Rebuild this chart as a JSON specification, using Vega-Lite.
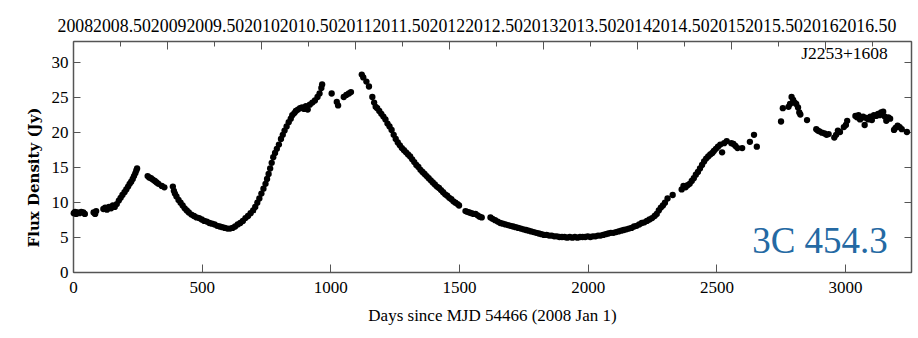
{
  "$schema": "https://vega.github.io/schema/vega-lite/v6.json",
  "width": 838,
  "height": 231,
  "autosize": {"type": "none"},
  "padding": {"left": 73, "top": 41, "right": 7, "bottom": 66},
  "background": "white",
  "config": {
    "font": "Liberation Serif",
    "view": {"stroke": "#555", "strokeWidth": 1},
    "axis": {"grid": false, "domainColor": "#555", "domainWidth": 1.5, "tickColor": "#555", "tickWidth": 1, "labelColor": "black", "labelFont": "Liberation Serif", "labelFontSize": 17, "titleFont": "Liberation Serif", "titleColor": "black"}
  },
  "datasets": {
    "lc": [
      {"d":3,"f":8.4},{"d":8,"f":8.6},{"d":12,"f":8.3},{"d":18,"f":8.5},{"d":25,"f":8.4},{"d":32,"f":8.6},{"d":40,"f":8.5},{"d":46,"f":8.3},
      {"d":80,"f":8.5},{"d":86,"f":8.3},{"d":90,"f":8.7},
      {"d":118,"f":9.0},{"d":125,"f":9.2},{"d":132,"f":8.9},{"d":140,"f":9.3},{"d":148,"f":9.1},{"d":155,"f":9.5},{"d":162,"f":9.3},{"d":170,"f":9.7},{"d":178,"f":10.2},{"d":185,"f":10.6},{"d":192,"f":11.0},{"d":200,"f":11.4},{"d":207,"f":11.8},{"d":214,"f":12.2},{"d":220,"f":12.6},{"d":226,"f":12.9},{"d":232,"f":13.3},{"d":237,"f":13.7},{"d":242,"f":14.1},{"d":246,"f":14.5},{"d":249,"f":14.8},
      {"d":290,"f":13.7},{"d":296,"f":13.5},{"d":303,"f":13.4},{"d":310,"f":13.2},{"d":318,"f":13.0},{"d":325,"f":12.8},{"d":332,"f":12.6},{"d":345,"f":12.3},{"d":355,"f":12.1},
      {"d":388,"f":12.2},{"d":392,"f":11.6},{"d":396,"f":11.2},{"d":402,"f":10.8},{"d":410,"f":10.3},{"d":418,"f":9.9},{"d":426,"f":9.5},{"d":434,"f":9.1},{"d":442,"f":8.8},{"d":450,"f":8.5},{"d":460,"f":8.2},{"d":470,"f":8.0},{"d":480,"f":7.8},{"d":490,"f":7.7},{"d":500,"f":7.5},{"d":510,"f":7.3},{"d":520,"f":7.2},{"d":530,"f":7.0},{"d":540,"f":6.9},{"d":550,"f":6.8},{"d":560,"f":6.6},{"d":570,"f":6.5},{"d":580,"f":6.4},{"d":590,"f":6.3},{"d":600,"f":6.2},{"d":610,"f":6.2},{"d":620,"f":6.3},{"d":630,"f":6.5},{"d":640,"f":6.8},{"d":650,"f":7.0},{"d":660,"f":7.3},{"d":670,"f":7.7},{"d":680,"f":8.0},{"d":690,"f":8.4},{"d":700,"f":8.8},{"d":708,"f":9.3},{"d":716,"f":9.9},{"d":724,"f":10.5},{"d":732,"f":11.2},{"d":740,"f":11.9},{"d":748,"f":12.6},{"d":754,"f":13.3},{"d":760,"f":14.0},{"d":766,"f":14.8},{"d":772,"f":15.6},{"d":778,"f":16.4},{"d":785,"f":17.0},{"d":792,"f":17.6},{"d":800,"f":18.2},{"d":808,"f":19.0},{"d":815,"f":19.6},{"d":822,"f":20.2},{"d":830,"f":20.8},{"d":838,"f":21.4},{"d":846,"f":21.9},{"d":852,"f":22.4},{"d":860,"f":22.7},{"d":866,"f":23.0},{"d":874,"f":23.2},{"d":882,"f":23.4},{"d":890,"f":23.5},{"d":898,"f":23.3},{"d":905,"f":23.7},{"d":912,"f":23.2},{"d":920,"f":23.9},{"d":930,"f":24.2},{"d":940,"f":24.5},{"d":950,"f":25.0},{"d":958,"f":25.5},{"d":965,"f":26.3},{"d":968,"f":26.8},
      {"d":1005,"f":25.5},{"d":1025,"f":24.3},{"d":1030,"f":23.8},{"d":1052,"f":25.0},{"d":1062,"f":25.3},{"d":1072,"f":25.5},{"d":1080,"f":25.7},
      {"d":1122,"f":28.2},{"d":1128,"f":27.8},{"d":1140,"f":27.2},{"d":1150,"f":26.5},{"d":1163,"f":25.0},{"d":1170,"f":24.2},{"d":1176,"f":23.6},{"d":1182,"f":23.4},{"d":1190,"f":23.0},{"d":1198,"f":22.6},{"d":1206,"f":22.2},{"d":1214,"f":21.8},{"d":1222,"f":21.2},{"d":1230,"f":20.8},{"d":1238,"f":20.3},{"d":1246,"f":19.6},{"d":1254,"f":19.0},{"d":1262,"f":18.5},{"d":1270,"f":18.1},{"d":1278,"f":17.7},{"d":1286,"f":17.4},{"d":1294,"f":17.1},{"d":1302,"f":16.8},{"d":1310,"f":16.5},{"d":1318,"f":16.1},{"d":1326,"f":15.7},{"d":1334,"f":15.3},{"d":1342,"f":15.0},{"d":1350,"f":14.6},{"d":1358,"f":14.3},{"d":1366,"f":14.0},{"d":1374,"f":13.7},{"d":1382,"f":13.4},{"d":1390,"f":13.1},{"d":1398,"f":12.8},{"d":1406,"f":12.5},{"d":1414,"f":12.2},{"d":1422,"f":12.0},{"d":1430,"f":11.7},{"d":1438,"f":11.4},{"d":1446,"f":11.1},{"d":1454,"f":10.9},{"d":1462,"f":10.6},{"d":1470,"f":10.4},{"d":1478,"f":10.1},{"d":1486,"f":9.9},{"d":1494,"f":9.7},{"d":1500,"f":9.5},
      {"d":1525,"f":8.7},{"d":1532,"f":8.6},{"d":1540,"f":8.5},{"d":1548,"f":8.4},{"d":1556,"f":8.3},{"d":1564,"f":8.3},{"d":1572,"f":8.1},{"d":1580,"f":7.9},{"d":1588,"f":7.8},
      {"d":1622,"f":7.8},{"d":1630,"f":7.6},{"d":1640,"f":7.4},{"d":1650,"f":7.2},{"d":1660,"f":7.0},{"d":1670,"f":6.9},{"d":1680,"f":6.8},{"d":1690,"f":6.7},{"d":1700,"f":6.6},{"d":1710,"f":6.5},{"d":1720,"f":6.4},{"d":1730,"f":6.3},{"d":1740,"f":6.2},{"d":1750,"f":6.1},{"d":1760,"f":6.0},{"d":1770,"f":5.9},{"d":1780,"f":5.8},{"d":1790,"f":5.7},{"d":1800,"f":5.6},{"d":1810,"f":5.5},{"d":1820,"f":5.4},{"d":1830,"f":5.3},{"d":1840,"f":5.3},{"d":1850,"f":5.2},{"d":1860,"f":5.2},{"d":1870,"f":5.1},{"d":1880,"f":5.1},{"d":1890,"f":5.0},{"d":1900,"f":5.0},{"d":1910,"f":5.0},{"d":1920,"f":4.9},{"d":1930,"f":5.0},{"d":1940,"f":4.9},{"d":1950,"f":5.0},{"d":1960,"f":4.9},{"d":1970,"f":5.0},{"d":1980,"f":5.0},{"d":1990,"f":5.0},{"d":2000,"f":5.1},{"d":2010,"f":5.0},{"d":2020,"f":5.1},{"d":2030,"f":5.1},{"d":2040,"f":5.2},{"d":2050,"f":5.2},{"d":2060,"f":5.3},{"d":2070,"f":5.4},{"d":2080,"f":5.5},{"d":2090,"f":5.6},{"d":2100,"f":5.6},{"d":2110,"f":5.7},{"d":2120,"f":5.8},{"d":2130,"f":5.9},{"d":2140,"f":6.0},{"d":2150,"f":6.1},{"d":2160,"f":6.2},{"d":2170,"f":6.3},{"d":2180,"f":6.5},{"d":2190,"f":6.6},{"d":2200,"f":6.8},{"d":2210,"f":7.0},{"d":2220,"f":7.1},{"d":2230,"f":7.3},{"d":2240,"f":7.5},{"d":2250,"f":7.7},{"d":2260,"f":8.0},{"d":2268,"f":8.3},{"d":2276,"f":8.8},{"d":2284,"f":9.2},{"d":2292,"f":9.5},{"d":2300,"f":9.9},{"d":2310,"f":10.5},{"d":2330,"f":11.0},
      {"d":2365,"f":11.8},{"d":2372,"f":12.3},{"d":2380,"f":12.1},{"d":2388,"f":12.4},{"d":2396,"f":12.6},{"d":2404,"f":13.0},{"d":2412,"f":13.4},{"d":2420,"f":13.9},{"d":2428,"f":14.3},{"d":2436,"f":14.8},{"d":2444,"f":15.3},{"d":2452,"f":15.8},{"d":2460,"f":16.2},{"d":2468,"f":16.5},{"d":2476,"f":16.8},{"d":2484,"f":17.0},{"d":2490,"f":17.3},{"d":2498,"f":17.6},{"d":2506,"f":17.9},{"d":2515,"f":18.2},{"d":2522,"f":17.1},{"d":2530,"f":18.4},{"d":2540,"f":18.7},{"d":2558,"f":18.4},{"d":2566,"f":18.3},{"d":2574,"f":18.0},{"d":2582,"f":17.7},{"d":2600,"f":17.7},{"d":2630,"f":18.6},{"d":2646,"f":19.6},{"d":2657,"f":17.9},
      {"d":2751,"f":21.5},{"d":2758,"f":23.4},{"d":2780,"f":23.6},{"d":2786,"f":24.0},{"d":2792,"f":25.0},{"d":2798,"f":24.6},{"d":2804,"f":24.2},{"d":2810,"f":24.0},{"d":2817,"f":23.5},{"d":2822,"f":22.8},{"d":2826,"f":22.5},{"d":2852,"f":21.7},{"d":2888,"f":20.4},{"d":2894,"f":20.2},{"d":2900,"f":20.1},{"d":2910,"f":19.9},{"d":2920,"f":19.8},{"d":2928,"f":19.6},{"d":2936,"f":19.7},{"d":2958,"f":19.2},{"d":2965,"f":19.6},{"d":2972,"f":20.2},{"d":2980,"f":20.0},{"d":2995,"f":20.7},{"d":3003,"f":21.0},{"d":3008,"f":21.6},{"d":3040,"f":22.3},{"d":3046,"f":22.1},{"d":3052,"f":22.4},{"d":3058,"f":21.8},{"d":3064,"f":22.0},{"d":3070,"f":22.2},{"d":3076,"f":21.0},{"d":3082,"f":22.0},{"d":3090,"f":21.8},{"d":3098,"f":22.2},{"d":3104,"f":21.7},{"d":3112,"f":22.4},{"d":3120,"f":22.3},{"d":3128,"f":22.6},{"d":3134,"f":22.4},{"d":3140,"f":22.8},{"d":3148,"f":22.9},{"d":3154,"f":22.2},{"d":3160,"f":21.6},{"d":3168,"f":22.1},{"d":3175,"f":21.9},{"d":3190,"f":20.3},{"d":3196,"f":20.6},{"d":3204,"f":20.9},{"d":3212,"f":20.7},{"d":3220,"f":20.4},{"d":3240,"f":20.0}
    ],
    "labels": [
      {"label": "J2253+1608", "day": 3166, "flux": 31.2},
      {"label": "3C 454.3", "day": 3166, "flux": 2.66}
    ]
  },
  "layer": [
    {
      "data": {"name": "lc"},
      "mark": {"type": "circle", "size": 40, "color": "black", "opacity": 1},
      "encoding": {
        "x": {"field": "d", "type": "quantitative", "scale": {"domain": [0, 3256], "nice": false, "zero": false},
              "axis": {"orient": "bottom", "values": [0,500,1000,1500,2000,2500,3000], "format": "d", "tickSize": -8, "labelPadding": 15, "labelFlush": false, "labelOverlap": false, "title": "Days since MJD 54466 (2008 Jan 1)", "titleFontSize": 17, "titleFontWeight": "normal", "titlePadding": 12}},
        "y": {"field": "f", "type": "quantitative", "scale": {"domain": [0, 33], "nice": false, "zero": false},
              "axis": {"orient": "left", "values": [0,5,10,15,20,25,30], "format": "d", "tickSize": -7, "labelPadding": 12, "labelFlush": false, "labelOverlap": false, "title": "Flux Density (Jy)", "titleFont": "DejaVu Serif", "titleFontSize": 15, "titleFontWeight": "bold", "titleY": 136, "titlePadding": 10}}
      }
    },
    {
      "data": {"name": "lc"},
      "mark": {"type": "point", "opacity": 0},
      "encoding": {
        "x": {"field": "d", "type": "quantitative", "scale": {"domain": [0, 3256], "nice": false, "zero": false},
              "axis": {"orient": "top", "values": [366,731,1096,1461,1827,2192,2557,2922], "tickSize": -8, "labels": false, "domain": true, "title": "20082008.5020092009.5020102010.5020112011.5020122012.5020132013.5020142014.5020152015.5020162016.50", "titleFontSize": 17.8, "titleFontWeight": "normal", "titleAlign": "left", "titleX": -16, "titlePadding": 5}},
        "y": {"field": "f", "type": "quantitative", "scale": {"domain": [0, 33], "nice": false, "zero": false},
              "axis": {"orient": "right", "values": [0,5,10,15,20,25,30], "tickSize": -7, "labels": false, "title": null}}
      }
    },
    {
      "data": {"name": "lc"},
      "mark": {"type": "point", "opacity": 0},
      "encoding": {
        "x": {"field": "d", "type": "quantitative", "scale": {"domain": [0, 3256], "nice": false, "zero": false},
              "axis": {"orient": "top", "values": [183,548.5,913.5,1278.5,1644,2009.5,2374.5,2739.5,3105], "tickSize": -5, "labels": false, "domain": false, "title": null}},
        "y": {"field": "f", "type": "quantitative", "scale": {"domain": [0, 33], "nice": false, "zero": false}, "axis": null}
      }
    },
    {
      "data": {"name": "labels"},
      "transform": [{"filter": "datum.label === 'J2253+1608'"}],
      "mark": {"type": "text", "align": "right", "baseline": "middle", "font": "Liberation Serif", "fontSize": 17.5, "color": "black"},
      "encoding": {"text": {"field": "label"}, "x": {"field": "day", "type": "quantitative", "axis": null}, "y": {"field": "flux", "type": "quantitative", "axis": null}}
    },
    {
      "data": {"name": "labels"},
      "transform": [{"filter": "datum.label === '3C 454.3'"}],
      "mark": {"type": "text", "align": "right", "baseline": "alphabetic", "font": "Liberation Serif", "fontSize": 37, "color": "#2469a3"},
      "encoding": {"text": {"field": "label"}, "x": {"field": "day", "type": "quantitative", "axis": null}, "y": {"field": "flux", "type": "quantitative", "axis": null}}
    }
  ],
  "resolve": {"axis": {"x": "independent", "y": "independent"}}
}
